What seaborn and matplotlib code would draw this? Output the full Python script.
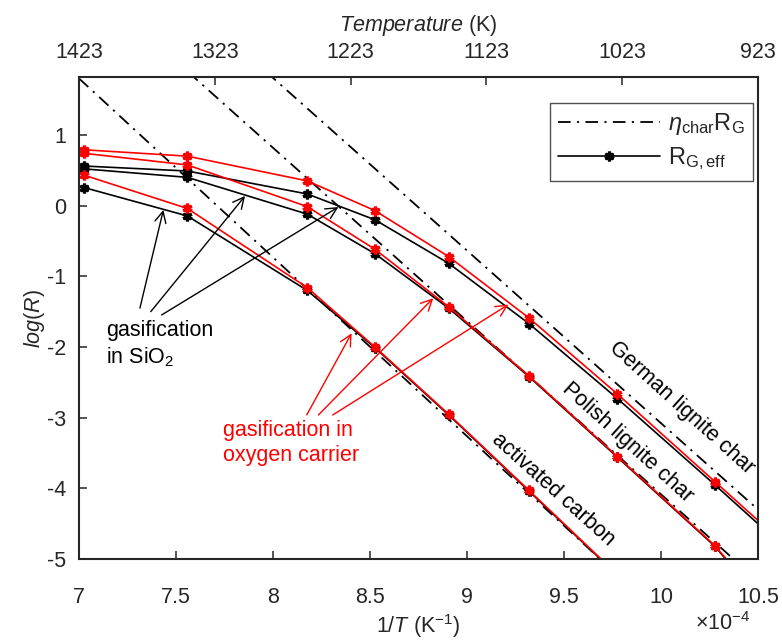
import numpy as np
import pandas as pd
import matplotlib
matplotlib.use("Agg")
import matplotlib.pyplot as plt
from matplotlib.lines import Line2D
import seaborn as sns

# Reaction temperatures of the experiments (K)
temperature_K = [1423, 1323, 1223, 1173, 1123, 1073, 1023, 973, 923]

# log of effective gasification rate R_G,eff, in oxygen carrier (red) and in SiO2 (black)
german_oc = [0.79, 0.70, 0.35, -0.07, -0.72, -1.59, -2.665, -3.905, -5.28]
german_sio2 = [0.56, 0.49, 0.165, -0.20, -0.815, -1.67, -2.73, -3.95, -5.33]
polish_oc = [0.74, 0.576, -0.014, -0.617, -1.43, -2.41, -3.55, -4.81, -6.60]
polish_sio2 = [0.52, 0.40, -0.12, -0.68, -1.45, -2.42, -3.56, -4.82, -6.62]
activated_oc = [0.43, -0.04, -1.16, -2.00, -2.95, -4.03, -5.22, np.nan, np.nan]
activated_sio2 = [0.255, -0.146, -1.20, -2.01, -2.96, -4.04, -5.23, np.nan, np.nan]

# Intrinsic (Arrhenius) rate eta_char * R_G evaluated at the ends of the 1/T range
arrhenius_invT = [7.0, 10.5]
german_eta = [4.25, -4.30]
polish_eta = [3.27, -5.31]
activated_eta = [1.80, -7.06]

# Top axis tick labels (K)
top_ticks_K = [1423, 1323, 1223, 1123, 1023, 923]
x_ticks = [7, 7.5, 8, 8.5, 9, 9.5, 10, 10.5]
x_tick_labels = ["7", "7.5", "8", "8.5", "9", "9.5", "10", "10.5"]
y_ticks = [-5, -4, -3, -2, -1, 0, 1]

inv_T = [1e4 / t for t in temperature_K]

rows = []
for char, oc, sio2 in [("German", german_oc, german_sio2),
                       ("Polish", polish_oc, polish_sio2),
                       ("activated", activated_oc, activated_sio2)]:
    for x, a, b in zip(inv_T, oc, sio2):
        rows.append(dict(invT=x, logR=a, char=char, medium="oxygen carrier"))
        rows.append(dict(invT=x, logR=b, char=char, medium="SiO2"))
df = pd.DataFrame(rows)

eta_df = pd.DataFrame({
    "invT": arrhenius_invT * 3,
    "logR": german_eta + polish_eta + activated_eta,
    "char": ["German"] * 2 + ["Polish"] * 2 + ["activated"] * 2,
})

sns.set_theme(style="ticks")
plt.rcParams["font.family"] = ["Liberation Sans", "DejaVu Sans"]
plt.rcParams["mathtext.fontset"] = "custom"
plt.rcParams["mathtext.rm"] = "Liberation Sans"
plt.rcParams["mathtext.it"] = "Liberation Sans:italic"
plt.rcParams["mathtext.bf"] = "Liberation Sans:bold"

FS = 15.5
INK = "#262626"

fig = plt.figure(figsize=(7.82, 6.42), dpi=100)
ax = fig.add_axes([79 / 782, 83 / 642, 679 / 782, 482 / 642])

dashdot = (0, (7, 3.5, 1.2, 3.5))
sns.lineplot(data=eta_df, x="invT", y="logR", units="char", estimator=None,
             color="black", lw=1.3, linestyle=dashdot, sort=False,
             legend=False, ax=ax)

marker_kw = dict(marker=(6, 2, 0), markersize=7, markeredgewidth=2.3)
sns.lineplot(data=df[df.medium == "SiO2"], x="invT", y="logR", units="char",
             estimator=None, color="black", lw=1.2, sort=False, legend=False,
             markeredgecolor="black", ax=ax, **marker_kw)
sns.lineplot(data=df[df.medium == "oxygen carrier"], x="invT", y="logR",
             units="char", estimator=None, color="red", lw=1.2, sort=False,
             legend=False, markeredgecolor="red", ax=ax, **marker_kw)

ax.set_xlim(7, 10.5)
ax.set_ylim(-5, 1.82)
ax.set_xticks(x_ticks)
ax.set_xticklabels(x_tick_labels)
ax.set_yticks(y_ticks)
ax.set_yticklabels([str(v) for v in y_ticks])
ax.tick_params(direction="in", length=6, width=1.1, colors=INK,
               labelsize=FS, top=False, right=False)
ax.tick_params(axis="x", pad=20)
ax.tick_params(axis="y", pad=9)
for s in ax.spines.values():
    s.set_visible(True)
    s.set_linewidth(1.5)
    s.set_color(INK)
ax.set_xlabel(r"$\mathit{1/T}$ (K$^{-1}$)", fontsize=FS, color=INK, labelpad=3)
ax.set_ylabel(r"$\mathit{log(R)}$", fontsize=FS, color=INK, labelpad=0)

top = ax.twiny()
top.set_xlim(top_ticks_K[0], top_ticks_K[-1])
top.set_xticks(top_ticks_K)
top.set_xticklabels([str(t) for t in top_ticks_K])
top.tick_params(direction="in", length=6, width=1.1, colors=INK,
                labelsize=FS, pad=10)
top.set_xlabel(r"$\mathit{Temperature}$ (K)", fontsize=FS, color=INK, labelpad=8)
for s in top.spines.values():
    s.set_visible(False)

fig.text(695 / 782, 1 - 624 / 642, r"$\times$10$^{-4}$", fontsize=FS,
         color=INK, va="center", ha="left")

# Legend
handles = [
    Line2D([], [], color="black", lw=1.3, linestyle=dashdot),
    Line2D([], [], color="black", lw=1.2, marker=(6, 2, 0), markersize=7,
           markeredgewidth=2.3),
]
labels = [r"$\eta_{\rm char}$R$_{\rm G}$", r"R$_{\rm G,eff}$"]
leg = ax.legend(handles, labels, loc="upper right",
                bbox_to_anchor=(0.9926, 0.946), borderaxespad=0,
                fontsize=17, frameon=True, fancybox=False, edgecolor=INK,
                handlelength=4.3, borderpad=0.35, labelspacing=0.35,
                handletextpad=0.35)
leg.get_frame().set_linewidth(1.0)

# Curve labels
ax.text(10.108, -2.863, "German lignite char", rotation=-42, fontsize=FS,
        ha="center", va="center", color="black", rotation_mode="anchor")
ax.text(9.83, -3.358, "Polish lignite char", rotation=-42, fontsize=FS,
        ha="center", va="center", color="black", rotation_mode="anchor")
ax.text(9.443, -4.023, "activated carbon", rotation=-42, fontsize=FS,
        ha="center", va="center", color="black", rotation_mode="anchor")

# Annotations for inert-bed gasification
ax.text(7.14, -1.62, "gasification\nin SiO$_2$", fontsize=FS, color="black",
        ha="left", va="top", linespacing=1.25)
for start, tip in [((7.314, -1.45), (7.435, -0.06)),
                   ((7.37, -1.50), (7.856, 0.137)),
                   ((7.426, -1.547), (8.337, -0.02))]:
    ax.annotate("", xy=tip, xytext=start,
                arrowprops=dict(arrowstyle="->", color="black", lw=1.0,
                                shrinkA=0, shrinkB=0, mutation_scale=20))

# Annotations for oxygen-carrier gasification
ax.text(7.74, -3.03, "gasification in\noxygen carrier", fontsize=FS,
        color="red", ha="left", va="top", linespacing=1.25)
for start, tip in [((8.174, -2.962), (8.405, -1.806)),
                   ((8.234, -2.962), (8.826, -1.31)),
                   ((8.308, -2.962), (9.213, -1.40))]:
    ax.annotate("", xy=tip, xytext=start,
                arrowprops=dict(arrowstyle="->", color="red", lw=1.0,
                                shrinkA=0, shrinkB=0, mutation_scale=20))

fig.savefig("out.png", dpi=100)
